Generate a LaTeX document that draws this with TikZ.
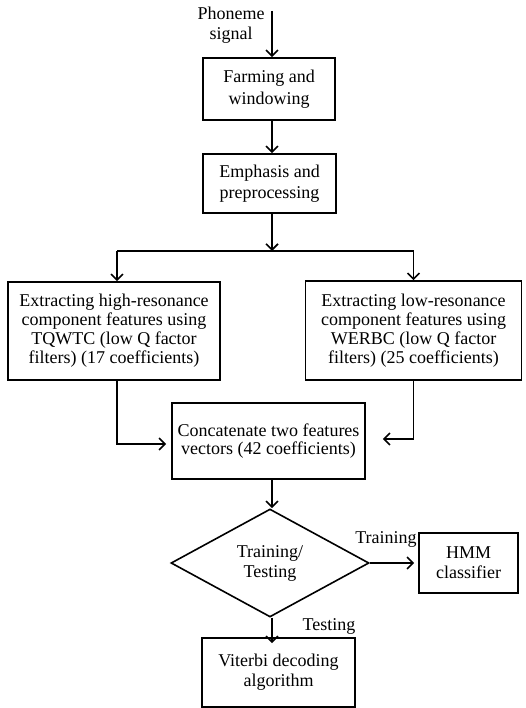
\documentclass[tikz,border=0pt]{standalone}
\usepackage{fontspec}
\setmainfont{Liberation Serif}
\usetikzlibrary{arrows.meta,shapes.geometric}
\begin{document}
\begin{tikzpicture}[x=1pt,y=-1pt,
  box/.style={draw,line width=1.6pt,inner sep=0pt,align=center,font=\fontsize{18}{20}\selectfont},
  lbl/.style={inner sep=0pt,align=center,font=\fontsize{18}{20}\selectfont},
  arr/.style={line width=1.2pt,-{Straight Barb[length=6pt,width=12pt,line width=1.6pt]}},
  ln/.style={line width=1.2pt}]
\useasboundingbox (0,0) rectangle (525,708);
\node[lbl] (sig) at (231,25) {Phoneme\\signal};
\coordinate (start) at (272,11);
\node[box,font=\fontsize{18}{21.5}\selectfont,minimum width=132pt,minimum height=62pt] (farm) at (269,89) {Farming and\\windowing};
\node[box,font=\fontsize{18}{21.5}\selectfont,minimum width=133pt,minimum height=59pt] (emph) at (269.5,183.5) {Emphasis and\\preprocessing};
\coordinate (split) at (269.5,251);
\node[box,font=\fontsize{18}{19}\selectfont,minimum width=212pt,minimum height=98pt] (left) at (114,331) {Extracting high-resonance\\component features using\\TQWTC (low Q factor\\filters) (17 coefficients)};
\node[box,font=\fontsize{18}{19}\selectfont,minimum width=216pt,minimum height=99pt] (right) at (413.5,330.5) {Extracting low-resonance\\component features using\\WERBC (low Q factor\\filters) (25 coefficients)};
\node[box,font=\fontsize{18}{18.7}\selectfont,minimum width=193pt,minimum height=76pt] (concat) at (268.5,441) {Concatenate two features\\vectors (42 coefficients)};
\node[box,shape=diamond,aspect=1.83,minimum width=198pt,minimum height=108pt] (dia) at (270,563) {Training/\\Testing};
\node[box,minimum width=99pt,minimum height=60pt] (hmm) at (468.5,563) {HMM\\classifier};
\node[box,minimum width=153pt,minimum height=69pt] (vit) at (278.5,672.5) {Viterbi decoding\\algorithm};
\node[lbl] (ltrain) at (386,539) {Training};
\node[lbl] (ltest) at (329,626) {Testing};
\coordinate (sl) at ([xshift=3pt]split -| left.north);
\draw[arr] (start) -- (farm.north -| start);
\draw[arr] (farm.south -| start) -- (emph.north -| start);
\draw[arr] (emph.south -| start) -- (split -| start);
\draw[ln] (sl) -- (split -| right.north);
\draw[arr] (sl) -- (left.north -| sl);
\draw[arr] (split -| right.north) -- (right.north);
\draw[arr] (left.south -| sl) |- ([xshift=-5pt,yshift=-3pt]concat.west);
\draw[arr] (right.south) |- ([xshift=17pt,yshift=2pt]concat.east);
\draw[arr] (concat.south -| start) -- (dia.north -| start);
\draw[arr] (dia.east) -- ([xshift=-4pt]hmm.west);
\draw[arr] (dia.south -| start) -- ([yshift=-6pt]vit.north -| start);
\end{tikzpicture}
\end{document}
